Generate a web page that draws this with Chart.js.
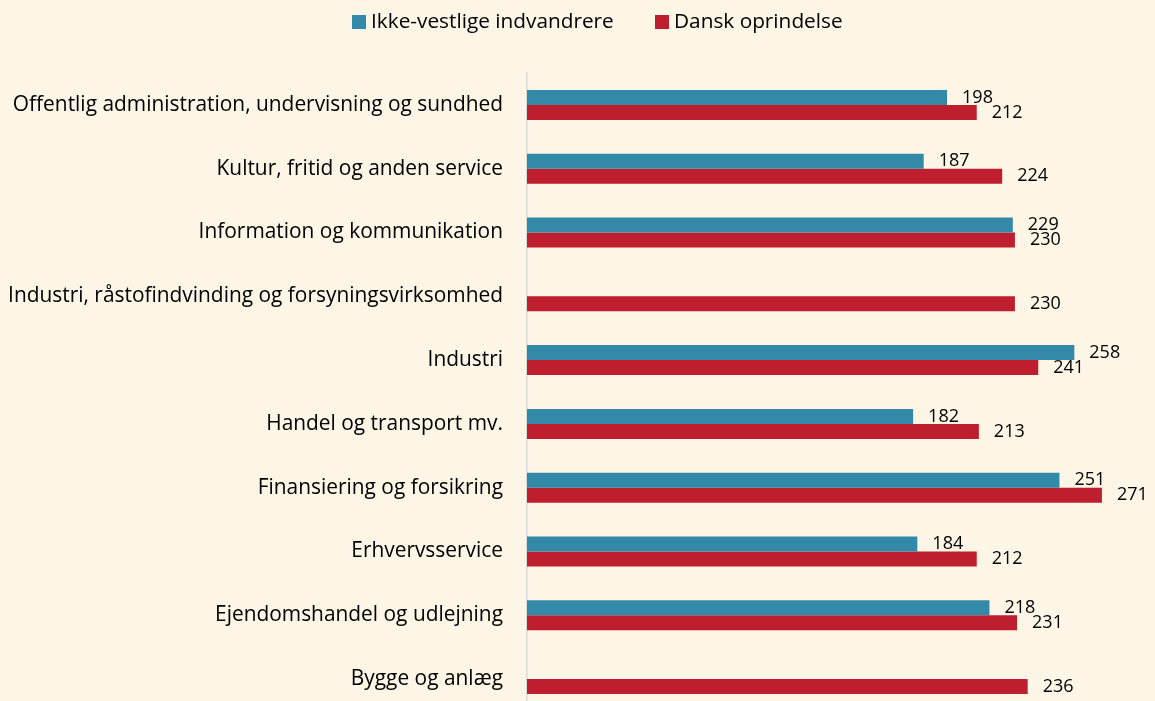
<!DOCTYPE html>
<html>
<head>
<meta charset="utf-8">
<script src="https://cdn.jsdelivr.net/npm/chart.js@4"></script>
<style>
	html, body { margin: 0; padding: 0; background: #FDF5E5; overflow: hidden; }
</style>
</head>
<body>
<canvas id="chart" width="1155" height="712"></canvas>
<script>
const categories = [
	"Offentlig administration, undervisning og sundhed",
	"Kultur, fritid og anden service",
	"Information og kommunikation",
	"Industri, råstofindvinding og forsyningsvirksomhed",
	"Industri",
	"Handel og transport mv.",
	"Finansiering og forsikring",
	"Erhvervsservice",
	"Ejendomshandel og udlejning",
	"Bygge og anlæg"
];
const ikkeVestlige = [198, 187, 229, null, 258, 182, 251, 184, 218, null];
const danskOprindelse = [212, 224, 230, 230, 241, 213, 271, 212, 231, 236];

const FONT = "'Open Sans', sans-serif";

// value labels at the end of each bar
const barLabels = {
	id: "barLabels",
	afterDatasetsDraw(chart) {
		const ctx = chart.ctx;
		ctx.save();
		ctx.font = "18px " + FONT;
		ctx.fillStyle = "#000";
		ctx.textAlign = "left";
		ctx.textBaseline = "middle";
		chart.data.datasets.forEach((ds, i) => {
			const meta = chart.getDatasetMeta(i);
			meta.data.forEach((bar, j) => {
				const v = ds.data[j];
				if (v == null) return;
				ctx.fillText(String(v), bar.x + 15, bar.y);
			});
		});
		ctx.restore();
	}
};

// legend drawn by hand, the built-in one puts too much space after the box
const topLegend = {
	id: "topLegend",
	afterDraw(chart) {
		const ctx = chart.ctx;
		const starts = [352, 655];
		ctx.save();
		ctx.font = "20.8px " + FONT;
		ctx.textBaseline = "middle";
		ctx.textAlign = "left";
		chart.data.datasets.forEach((ds, i) => {
			const x = starts[i];
			ctx.fillStyle = ds.backgroundColor;
			ctx.fillRect(x, 15, 14, 14);
			ctx.fillStyle = "#000";
			ctx.fillText(ds.label, x + 19, 22);
		});
		ctx.restore();
	}
};

const chart = new Chart(document.getElementById("chart"), {
	type: "bar",
	data: {
		labels: categories,
		datasets: [{
			label: "Ikke-vestlige indvandrere",
			data: ikkeVestlige,
			backgroundColor: "#3389A8"
		}, {
			label: "Dansk oprindelse",
			data: danskOprindelse,
			backgroundColor: "#BE1E2D"
		}]
	},
	options: {
		indexAxis: "y",
		responsive: false,
		animation: false,
		layout: { padding: { top: 73, right: 34, bottom: 1, left: 0 } },
		datasets: {
			bar: { barPercentage: 1, categoryPercentage: 0.47 }
		},
		scales: {
			x: {
				display: false,
				min: 0,
				max: 280
			},
			y: {
				afterFit(scale) {
					scale.width = 527;
					scale.paddingTop = 0;
					scale.paddingBottom = 0;
				},
				grid: { display: false, drawTicks: false },
				border: { color: "#D9D9D9", width: 1.5 },
				ticks: {
					padding: 24,
					color: "#000",
					font: { family: FONT, size: 20.9 }
				}
			}
		},
		plugins: {
			legend: { display: false },
			tooltip: { enabled: false }
		}
	},
	plugins: [barLabels, topLegend]
});
</script>
</body>
</html>
